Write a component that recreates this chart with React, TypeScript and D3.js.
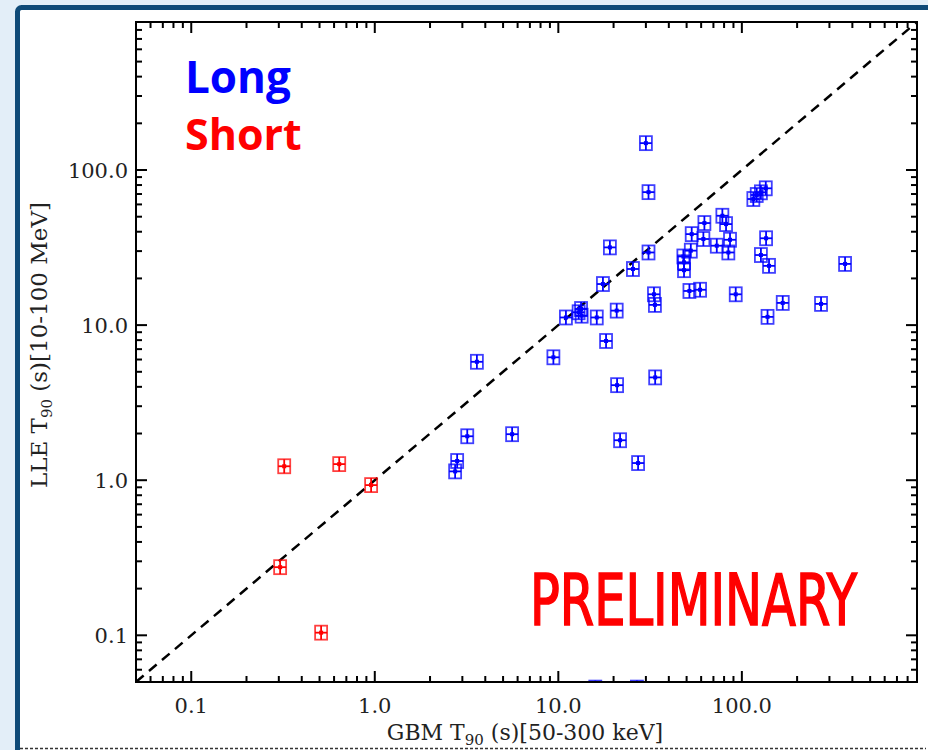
import React from "react";
import * as d3 from "d3";

// Long bursts: GBM T90 (s), LLE T90 (s)
const longGBM = [30, 31, 19.1, 31, 25.5, 17.5, 33.2, 33.6, 13.3, 12.9, 13.4, 11.0, 16.2, 20.8, 18.2, 9.4, 3.6, 20.9, 33.7, 3.19, 5.6, 21.7, 2.81, 2.74, 27.2,
  51.8, 59.2, 92.6, 167, 270, 138, 365, 62.5, 53.3, 61.7, 48, 52.7, 48.4, 48.4, 73, 78.3, 82, 86.2, 84.4, 115.5, 120.5, 127, 135, 135.5, 127, 140.6, 15.9, 26.8];
const longLLE = [149, 72, 31.7, 29.4, 23, 18.4, 15.8, 13.5, 12.7, 12.1, 11.5, 11.2, 11.2, 12.4, 7.9, 6.2, 5.8, 4.1, 4.6, 1.92, 1.98, 1.81, 1.33, 1.14, 1.29,
  16.6, 16.9, 15.8, 13.9, 13.7, 11.3, 24.8, 45.5, 38.6, 35.9, 27.7, 30.2, 25.4, 22.6, 32.5, 50.7, 44.8, 35.5, 29.4, 65, 69, 71.8, 76.2, 36.3, 28.3, 24.1, 0.046, 0.046];

// Short bursts
const shortGBM = [0.321, 0.64, 0.955, 0.305, 0.51];
const shortLLE = [1.23, 1.27, 0.93, 0.275, 0.104];

const axisDomain = [0.05, 900];
const majorTicks = [0.1, 1, 10, 100];
const majorLabels = ["0.1", "1.0", "10.0", "100.0"];
const minorTicks = [0.06, 0.07, 0.08, 0.09, 0.2, 0.3, 0.4, 0.5, 0.6, 0.7, 0.8, 0.9, 2, 3, 4, 5, 6, 7, 8, 9, 20, 30, 40, 50, 60, 70, 80, 90, 200, 300, 400, 500, 600, 700, 800, 900];

const L = 136, R = 917, T = 22, B = 682;
const serif = "'DejaVu Serif', serif";

function Marker({ cx, cy, color }: { cx: number; cy: number; color: string }) {
  const hw = 6, hh = 7;
  return (
    <g stroke={color} strokeWidth={1.8} fill="none">
      <rect x={cx - hw} y={cy - hh} width={hw * 2} height={hh * 2} strokeOpacity={0.75} />
      <line x1={cx - hw} x2={cx + hw} y1={cy} y2={cy} />
      <line x1={cx} x2={cx} y1={cy - hh} y2={cy + hh} />
      <rect x={cx - 2} y={cy - 2} width={4} height={4} fill={color} stroke="none" />
    </g>
  );
}

export default function App() {
  const x = d3.scaleLog().domain(axisDomain).range([L, R]);
  const y = d3.scaleLog().domain(axisDomain).range([B, T]);
  const line = d3.line<number>().x((d) => x(d)).y((d) => y(d));

  return (
    <svg width={928} height={750} style={{ position: "absolute", left: 0, top: 0, display: "block" }}>
      <rect x={0} y={0} width={928} height={750} fill="#e3eef8" />
      <rect x={17.5} y={7.5} width={920} height={770} rx={4} fill="#fff" stroke="#0f4a78" strokeWidth={5} />
      <line x1={20} x2={926} y1={748.5} y2={748.5} stroke="#333" strokeWidth={1.5} strokeDasharray="3,2" />

      <defs>
        <clipPath id="plotclip">
          <rect x={L} y={T} width={R - L} height={B - T} />
        </clipPath>
      </defs>

      {/* diagonal */}
      <path d={line(axisDomain) || ""} stroke="#000" strokeWidth={2.5} strokeDasharray="10,7" fill="none" clipPath="url(#plotclip)" />

      <g clipPath="url(#plotclip)">
        {longGBM.map((v, i) => (
          <Marker key={"l" + i} cx={x(v)} cy={y(longLLE[i])} color="#0000ff" />
        ))}
        {shortGBM.map((v, i) => (
          <Marker key={"s" + i} cx={x(v)} cy={y(shortLLE[i])} color="#ff0000" />
        ))}
      </g>

      {/* frame */}
      <rect x={L} y={T} width={R - L} height={B - T} fill="none" stroke="#000" strokeWidth={2} />
      {/* ticks */}
      <g stroke="#000" strokeWidth={2}>
        {majorTicks.map((t) => (
          <g key={"M" + t}>
            <line x1={x(t)} x2={x(t)} y1={B} y2={B - 11} />
            <line x1={x(t)} x2={x(t)} y1={T} y2={T + 11} />
            <line y1={y(t)} y2={y(t)} x1={L} x2={L + 11} />
            <line y1={y(t)} y2={y(t)} x1={R} x2={R - 11} />
          </g>
        ))}
        {minorTicks.map((t) => (
          <g key={"m" + t}>
            <line x1={x(t)} x2={x(t)} y1={B} y2={B - 6} />
            <line x1={x(t)} x2={x(t)} y1={T} y2={T + 6} />
            <line y1={y(t)} y2={y(t)} x1={L} x2={L + 6} />
            <line y1={y(t)} y2={y(t)} x1={R} x2={R - 6} />
          </g>
        ))}
      </g>
      <g fontFamily={serif} fontSize={21} fill="#222">
        {majorTicks.map((t, i) => (
          <text key={"xl" + t} x={x(t)} y={713} textAnchor="middle">{majorLabels[i]}</text>
        ))}
        {majorTicks.map((t, i) => (
          <text key={"yl" + t} x={128} y={y(t) + 8} textAnchor="end">{majorLabels[i]}</text>
        ))}
      </g>

      <text x={525} y={740} textAnchor="middle" fontFamily={serif} fontSize={22} fill="#222">
        GBM T<tspan fontSize={15} dy={5}>90</tspan><tspan dy={-5}> (s)[50-300 keV]</tspan>
      </text>
      <text transform="translate(47,345) rotate(-90)" textAnchor="middle" fontFamily={serif} fontSize={23} fill="#222">
        LLE T<tspan fontSize={15} dy={5}>90</tspan><tspan dy={-5}> (s)[10-100 MeV]</tspan>
      </text>

      <text x={185} y={93} fontFamily="'Open Sans', Lato, sans-serif" fontWeight="bold" fontSize={44} fill="#0000ff">Long</text>
      <text x={185} y={150} fontFamily="'Open Sans', Lato, sans-serif" fontWeight="bold" fontSize={43} fill="#ff0000">Short</text>

      <text transform="translate(530,625) scale(1,1.5)" x={0} y={0}
        fontFamily="'DejaVu Sans Condensed', 'Liberation Sans Narrow', 'DejaVu Sans', sans-serif" fontSize={48}
        fill="#ff0000" stroke="#ff0000" strokeWidth={1.1} textLength={327} lengthAdjust="spacingAndGlyphs">PRELIMINARY</text>
    </svg>
  );
}
